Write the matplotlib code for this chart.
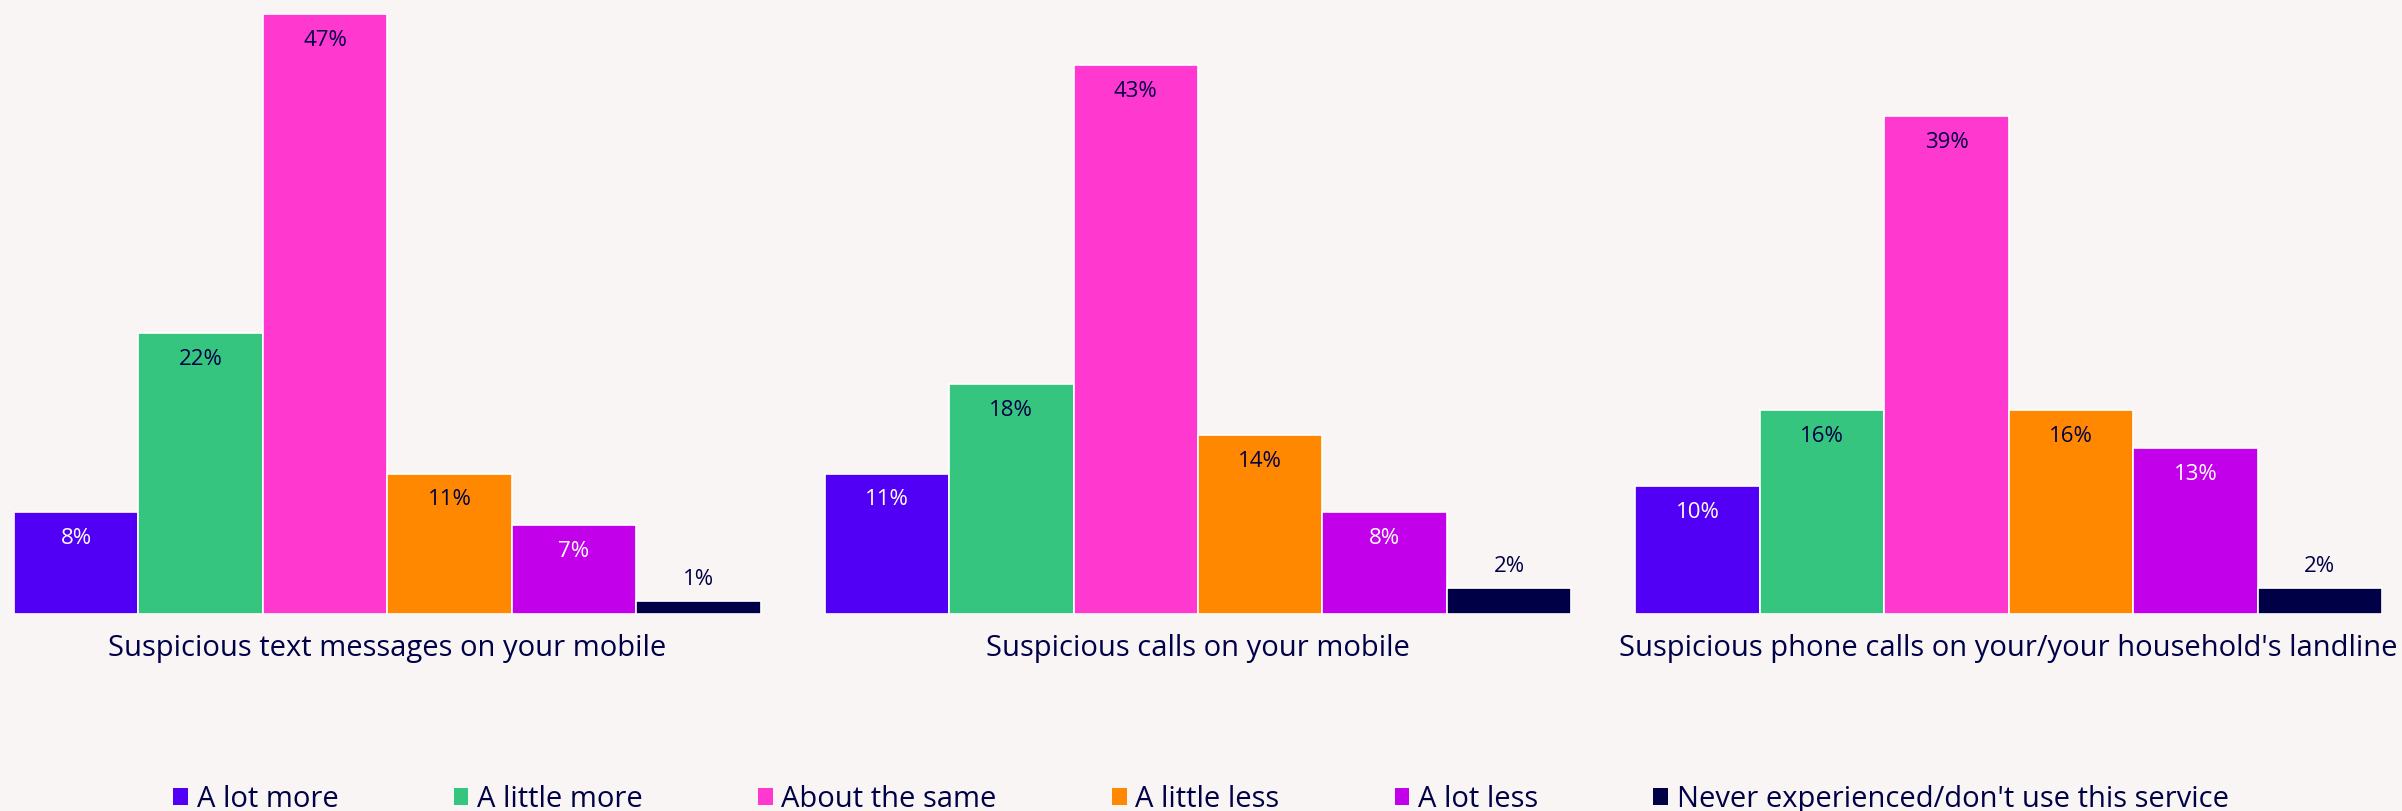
import numpy as np
import matplotlib.pyplot as plt
from matplotlib.patches import Patch

plt.rcParams['font.family'] = ['Open Sans', 'DejaVu Sans']

# Data
categories = ["Suspicious text messages on your mobile",
              "Suspicious calls on your mobile",
              "Suspicious phone calls on your/your household's landline"]
series = ["A lot more", "A little more", "About the same",
          "A little less", "A lot less", "Never experienced/don't use this service"]
values = np.array([
    [8, 22, 47, 11, 7, 1],
    [11, 18, 43, 14, 8, 2],
    [10, 16, 39, 16, 13, 2],
])

colors = ["#5200F5", "#35C57F", "#FF38CF", "#FF8800", "#C200EA", "#000046"]
label_colors = ["white", "#000046", "#000046", "#000046", "white", "#000046"]
bg = "#F9F5F4"
navy = "#000046"

fig = plt.figure(figsize=(24.02, 8.11), dpi=100, facecolor=bg)
ax = fig.add_axes([14 / 2402, 197 / 811, 2368 / 2402, 600 / 811])
ax.set_facecolor(bg)

gap = 0.515
nser = len(series)
for g in range(len(categories)):
    start = g * (nser + gap)
    for s in range(nser):
        x = start + s + 0.5
        v = values[g, s]
        ax.bar(x, v, width=1.0, color=colors[s], edgecolor="white", linewidth=1.2)
        if s == nser - 1:
            ax.annotate(f"{v}%", (x, v), xytext=(0, 16), textcoords="offset points",
                        ha="center", va="center", fontsize=16, color=navy)
        else:
            ax.annotate(f"{v}%", (x, v), xytext=(0, -19), textcoords="offset points",
                        ha="center", va="center", fontsize=16, color=label_colors[s])
    ax.text(start + nser / 2, -2.74, categories[g], ha="center", va="center",
            fontsize=21, color=navy, clip_on=False)

ax.set_xlim(0, len(categories) * nser + (len(categories) - 1) * gap)
ax.set_ylim(0, 47)
ax.axis("off")

handles = [Patch(facecolor=c, edgecolor="none") for c in colors]
fig.legend(handles, series, loc="center", bbox_to_anchor=(0.5, 0.014), ncol=6,
           frameon=False, fontsize=21, handlelength=0.5, handleheight=0.5,
           handletextpad=0.3, columnspacing=3.95, labelcolor=navy)

fig.savefig("out.png", dpi=100, facecolor=bg)
